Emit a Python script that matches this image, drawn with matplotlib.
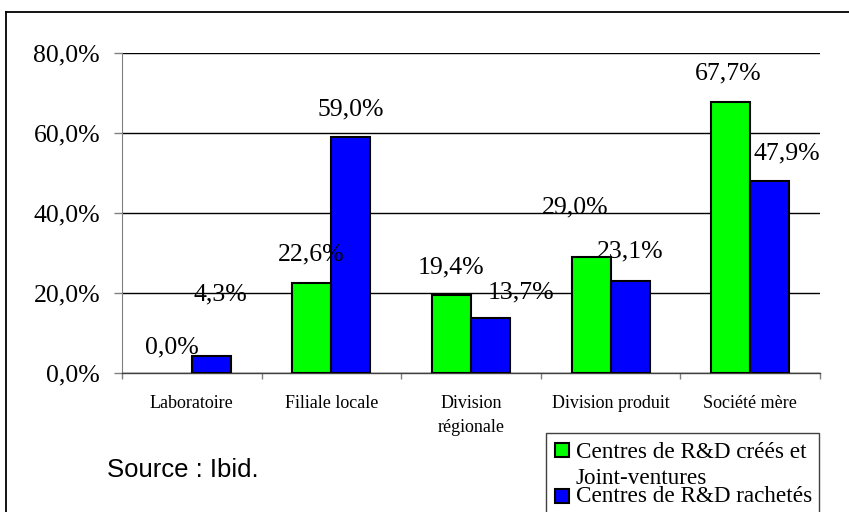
import matplotlib
matplotlib.use("Agg")
import matplotlib.pyplot as plt
from matplotlib.lines import Line2D
from matplotlib.patches import Rectangle
import numpy as np

categories = ["Laboratoire", "Filiale locale", "Division\nrégionale", "Division produit", "Société mère"]
crees_jv = [0.0, 22.6, 19.4, 29.0, 67.7]
rachetes = [4.3, 59.0, 13.7, 23.1, 47.9]
y_ticks = [0, 20, 40, 60, 80]
y_tick_labels = ["0,0%", "20,0%", "40,0%", "60,0%", "80,0%"]
series_names = ["Centres de R&D créés et\nJoint-ventures", "Centres de R&D rachetés"]
source_text = "Source : Ibid."

# label offsets in pixels (dx, dy) from the top-centre of each bar
off_green = [(0, 26), (-1, 28), (0, 28), (-16, 50), (-2, 29)]
off_blue = [(9, 61), (0, 28), (30, 26), (0, 29), (17, 28)]

W, H = 849, 512
fig = plt.figure(figsize=(W / 100, H / 100), dpi=100)
serif = "Liberation Serif"

ax = fig.add_axes([122 / W, 1 - 373 / H, (820 - 122) / W, (373 - 53) / H])
n = len(categories)
x = np.arange(n)
bw = 0.28
green = "#00FF00"
blue = "#0000FF"
ax.bar(x - bw / 2, crees_jv, bw, color=green, edgecolor="black",
       linewidth=[0 if v == 0 else 1.5 for v in crees_jv], zorder=3)
ax.bar(x + bw / 2, rachetes, bw, color=blue, edgecolor="black",
       linewidth=[0 if v == 0 else 1.5 for v in rachetes], zorder=3)

ax.set_xlim(-0.5, n - 0.5)
ax.set_ylim(0, 80)
ax.set_yticks(y_ticks)
ax.set_yticklabels(y_tick_labels, fontfamily=serif, fontsize=18.5)
ax.tick_params(axis="y", length=5.8, width=1, color="#808080", pad=10, direction="out")
ax.yaxis.grid(True, color="black", linewidth=1)
ax.set_axisbelow(True)

ax.set_xticks(x)
ax.set_xticklabels(categories, fontfamily=serif, fontsize=13, linespacing=1.5, va="top")
ax.set_xticks(np.arange(n + 1) - 0.5, minor=True)
ax.tick_params(axis="x", which="major", length=0, pad=16)
ax.tick_params(axis="x", which="minor", length=4.5, width=1, color="#808080", direction="out")

for s in ["top", "right"]:
    ax.spines[s].set_visible(False)
ax.spines["left"].set_color("#808080")
ax.spines["bottom"].set_color("#404040")
ax.spines["bottom"].set_linewidth(1)

px = 0.72
for i in range(n):
    for vals, offs, dxc in ((crees_jv, off_green, -bw / 2), (rachetes, off_blue, bw / 2)):
        v = vals[i]
        dx, dy = offs[i]
        ax.annotate(f"{v:.1f}%".replace(".", ","), xy=(i + dxc, v), xytext=(dx * px, dy * px),
                    textcoords="offset points", ha="center", va="center",
                    fontfamily=serif, fontsize=18.5, zorder=5)

# outer chart border (left and top visible)
fig.add_artist(Line2D([6 / W, 6 / W], [0, 1 - 12 / H], color="black", linewidth=1.3, transform=fig.transFigure))
fig.add_artist(Line2D([6 / W, 1], [1 - 12 / H, 1 - 12 / H], color="black", linewidth=1.3, transform=fig.transFigure))

# legend box (manual, clipped by figure bottom)
fig.add_artist(Rectangle((546 / W, -0.05), (819 - 546) / W, (1 - 433 / H) + 0.05, transform=fig.transFigure,
                         facecolor="white", edgecolor="#404040", linewidth=1))
for (cy, col) in ((450, green), (496, blue)):
    fig.add_artist(Rectangle((555 / W, 1 - (cy + 7) / H), 14 / W, 14 / H, transform=fig.transFigure,
                             facecolor=col, edgecolor="black", linewidth=1.5))
fig.text(576 / W, 1 - 452 / H, "Centres de R&D créés et", fontfamily=serif, fontsize=16.7, va="center", ha="left")
fig.text(576 / W, 1 - 478 / H, "Joint-ventures", fontfamily=serif, fontsize=16.7, va="center", ha="left")
fig.text(576 / W, 1 - 497 / H, series_names[1], fontfamily=serif, fontsize=16.7, va="center", ha="left")

fig.text(107 / W, 1 - 470 / H, source_text, fontfamily="Liberation Sans", fontsize=18.5, va="center", ha="left")

fig.savefig("out.png", dpi=100)
